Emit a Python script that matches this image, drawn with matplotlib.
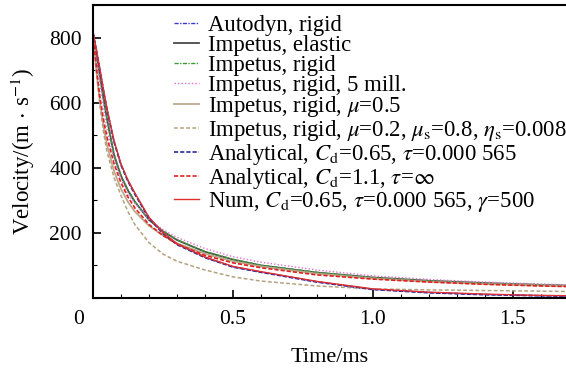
import matplotlib
matplotlib.use("Agg")
import matplotlib.pyplot as plt
from matplotlib.transforms import ScaledTranslation
from matplotlib.ticker import MultipleLocator

plt.rcParams["font.family"] = ["Liberation Serif", "DejaVu Serif"]
plt.rcParams["mathtext.fontset"] = "stix"

# time [ms]
t = [0, 0.0125, 0.025, 0.0375, 0.05, 0.075, 0.1, 0.125, 0.15, 0.2, 0.25, 0.3, 0.4,
     0.5, 0.6, 0.8, 1.0, 1.2, 1.4, 1.6, 1.7]

# velocity [m/s]
autodyn_rigid = [815, 760, 700, 638, 580, 482, 410, 360, 320, 247, 200, 166, 125,
                 96, 80, 50, 27, 17, 11, 7, 6]
impetus_elastic = [815, 745, 680, 612, 550, 440, 375, 330, 295, 240, 205, 178, 142,
                   118, 100, 78, 63, 53, 46, 40, 38]
impetus_rigid = [815, 747, 682, 614, 552, 442, 377, 332, 296, 241, 206, 179, 143,
                 119, 101, 79, 63, 53, 46, 41, 39]
impetus_5mill = [815, 735, 660, 585, 520, 425, 365, 320, 290, 242, 210, 186, 152,
                 127, 110, 86, 68, 57, 49, 43, 40]
impetus_mu05 = [815, 695, 600, 528, 470, 390, 335, 295, 265, 222, 192, 168, 136,
                113, 97, 75, 60, 50, 43, 38, 36]
impetus_mu02 = [815, 690, 590, 510, 450, 370, 315, 265, 225, 170, 135, 113, 86,
                65, 52, 37, 28, 25, 23, 21, 20]
analytical_065 = [815, 758, 698, 636, 578, 480, 408, 358, 318, 245, 198, 164, 124,
                  95, 79, 49, 26, 16, 10, 7, 6]
analytical_11 = [815, 705, 615, 548, 494, 413, 354, 310, 276, 226, 192, 166, 131,
                 108, 93, 71, 58, 49, 42, 37, 35]
num_065 = [815, 762, 702, 640, 582, 484, 412, 362, 322, 248, 201, 167, 126,
           97, 81, 51, 28, 18, 12, 8, 7]

labels = [
    "Autodyn, rigid",
    "Impetus, elastic",
    "Impetus, rigid",
    "Impetus, rigid, 5 mill.",
    r"Impetus, rigid, $\mu$=0.5",
    r"Impetus, rigid, $\mu$=0.2, $\mu_{\rm s}$=0.8, $\eta_{\rm s}$=0.008",
    r"Analytical, $C_{\rm d}$=0.65, $\tau$=0.000 565",
    r"Analytical, $C_{\rm d}$=1.1, $\tau$=$\infty$",
    r"Num, $C_{\rm d}$=0.65, $\tau$=0.000 565, $\gamma$=500",
]

fig = plt.figure(figsize=(5.66, 3.74), dpi=100)
ax = fig.add_axes([93 / 566, 76 / 374, 473 / 566, 293 / 374])

ax.plot(t, autodyn_rigid, color="#3b3bd0", ls=(0, (3, 1, 1, 1)), lw=1.0, label=labels[0])
ax.plot(t, impetus_elastic, color="#4a4a4a", ls="-", lw=1.3, label=labels[1])
ax.plot(t, impetus_rigid, color="#3a9a3a", ls=(0, (3, 1, 1, 1)), lw=1.0, label=labels[2])
ax.plot(t, impetus_5mill, color="#e070d0", ls=(0, (1, 1.5)), lw=1.0, label=labels[3])
ax.plot(t, impetus_mu05, color="#b9a98a", ls="-", lw=1.3, label=labels[4])
ax.plot(t, impetus_mu02, color="#b3a27f", ls=(0, (2.5, 1.5)), lw=1.1, label=labels[5])
ax.plot(t, analytical_065, color="#27279a", ls=(0, (2.5, 1.2)), lw=1.2, label=labels[6])
ax.plot(t, analytical_11, color="#e02020", ls=(0, (2.5, 1.2)), lw=1.2, label=labels[7])
ax.plot(t, num_065, color="#e03030", ls="-", lw=1.0, label=labels[8])

ax.set_xlim(0, 1.69)
ax.set_ylim(0, 900)
ax.set_xticks([0, 0.5, 1.0, 1.5])
ax.set_xticklabels(["0", "0.5", "1.0", "1.5"])
ax.set_yticks([200, 400, 600, 800])
ax.xaxis.set_minor_locator(MultipleLocator(0.1))
ax.yaxis.set_minor_locator(MultipleLocator(100))
ax.tick_params(which="both", direction="in", labelsize=15.5, width=1.2)
ax.tick_params(which="major", length=6)
ax.tick_params(which="minor", length=3, width=0.8)
ax.tick_params(axis="x", pad=9)
ax.tick_params(axis="y", pad=8)
ax.tick_params(top=False, right=False, which="both")
ax.spines["right"].set_visible(False)
for s in ("left", "bottom", "top"):
    ax.spines[s].set_linewidth(1.5)

# the origin label sits left of the corner
lab0 = ax.get_xticklabels()[0]
lab0.set_transform(lab0.get_transform() + ScaledTranslation(-0.14, 0, fig.dpi_scale_trans))

ax.set_xlabel("Time/ms", fontsize=16, labelpad=13)
ax.set_ylabel(r"Velocity/(m$\,\cdot\,$s$^{-1}$)", fontsize=16.5, labelpad=9)

ax.legend(loc="upper left", bbox_to_anchor=(174 / 566, 1 - 15 / 374),
          bbox_transform=fig.transFigure, frameon=False, fontsize=16.4,
          handlelength=1.1, handletextpad=0.4, labelspacing=-0.05,
          borderpad=0, borderaxespad=0)

fig.savefig("out.png", dpi=100)
